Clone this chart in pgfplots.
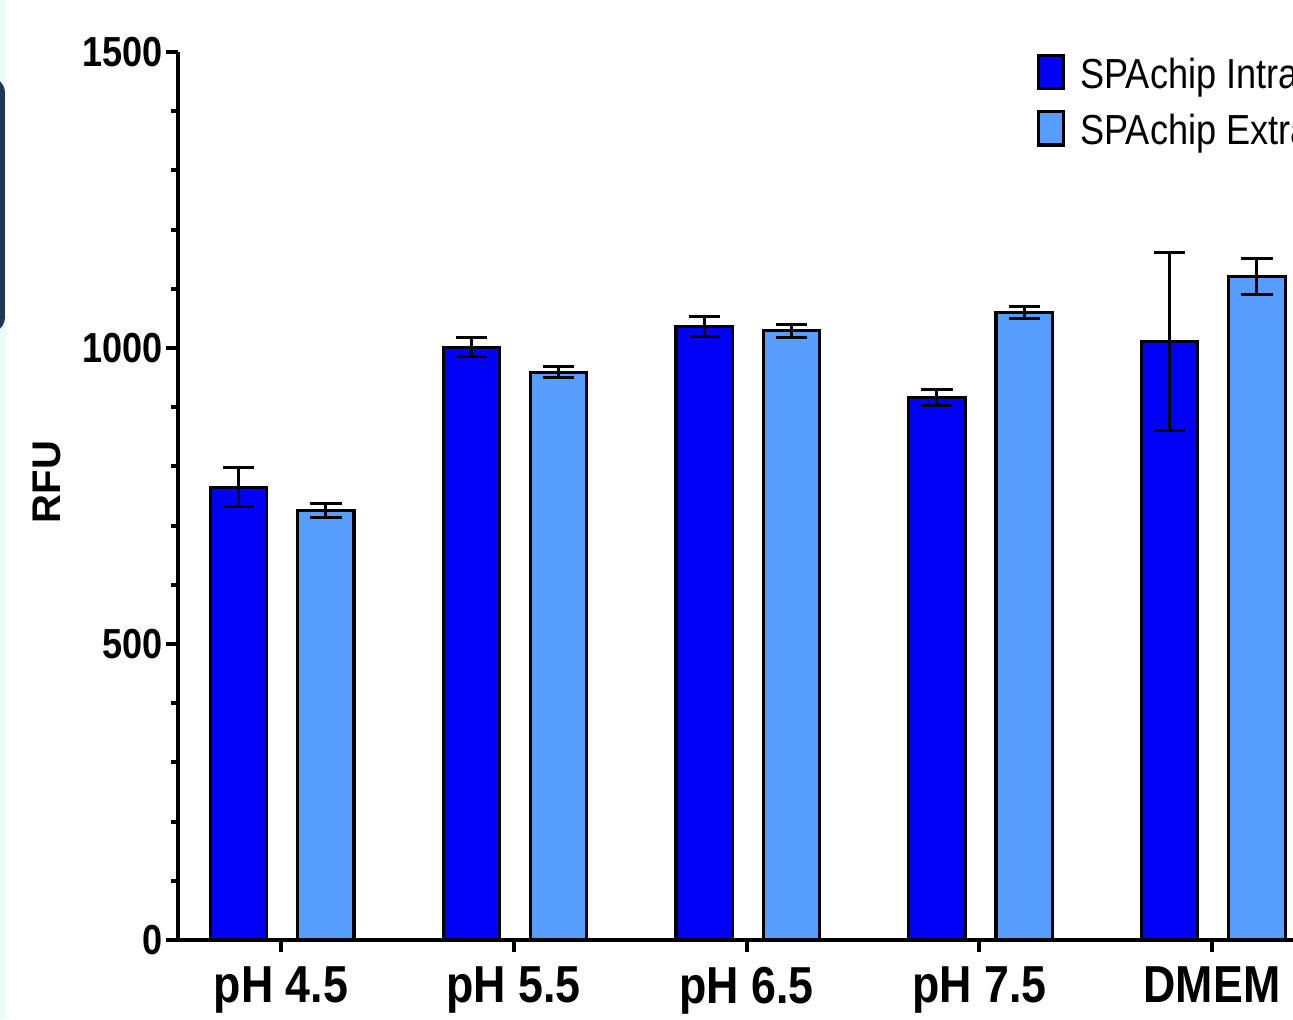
\documentclass[border=0pt]{standalone}
\usepackage{pgfplots}
\pgfplotsset{compat=1.18}
\usepackage{fontspec}
\setmainfont{Liberation Sans}[FakeStretch=0.86]
\newfontfamily\widefont{Liberation Sans}
\definecolor{dblue}{RGB}{0,0,250}
\definecolor{lblue}{RGB}{86,157,253}
\definecolor{navy}{RGB}{32,56,88}
\definecolor{edge}{RGB}{236,250,250}
\pgfplotsset{/pgfplots/ybar legend/.style={/pgfplots/legend image code/.code={\draw[##1,line width=0.8pt] (0pt,-3.1pt) rectangle (6.25pt,5.2pt);}}}
\begin{document}
\begin{tikzpicture}
\fill[edge] (-44.5pt,-19.75pt) rectangle (-43pt,235pt);
\fill[navy, rounded corners=4pt] (-52pt,151.75pt) rectangle (-43.25pt,215.75pt);
\begin{axis}[
  scale only axis, width=284.25pt, height=222pt,
  xmin=-0.4425, xmax=4.4425, ymin=0, ymax=1500,
  axis x line=bottom, axis y line=left,
  axis line style={line width=1pt, -},
  ybar, bar width=0.242,
  xtick={0,1,2,3,4}, xticklabels={pH 4.5,pH 5.5,pH 6.5,pH 7.5,DMEM},
  ytick={0,500,1000,1500}, yticklabels={0,500,1000,1500},
  minor ytick={100,200,300,400,600,700,800,900,1100,1200,1300,1400},
  tick align=outside, major tick length=3pt, minor tick length=1.8pt,
  tick style={line width=1pt, black},
  xticklabel style={font=\fontsize{13}{15}\selectfont\bfseries, inner sep=3.5pt},
  yticklabel style={font=\fontsize{10.5}{12}\selectfont\bfseries, inner sep=0.6pt},
  ylabel={RFU},
  ylabel style={font=\widefont\fontsize{10}{12}\selectfont\bfseries, at={(axis description cs:-0.1153,0.5158)}, anchor=center},
  legend style={at={(rel axis cs:0.755,0.999)}, anchor=north west, draw=none, fill=none,
    inner sep=0pt, row sep=3.95pt, column sep=3.75pt,
    font=\fontsize{10.5}{12.6}\selectfont, nodes={inner sep=0pt}},
  legend cell align=left,
  clip=false,
]
\addplot+[bar shift=-0.182, fill=dblue, draw=black, line width=0.8pt,
  error bars/.cd, y dir=both, y explicit,
  error bar style={line width=0.75pt, black},
  error mark options={rotate=90, line width=0.75pt, black, mark size=3.9pt}]
  coordinates {(0,765) +- (0,33) (1,1001) +- (0,16) (2,1036) +- (0,17) (3,917) +- (0,13.5) (4,1011) +- (0,150)};
\addlegendentry{SPAchip Intra}
\addplot+[bar shift=0.193, fill=lblue, draw=black, line width=0.8pt,
  error bars/.cd, y dir=both, y explicit,
  error bar style={line width=0.75pt, black},
  error mark options={rotate=90, line width=0.75pt, black, mark size=3.9pt}]
  coordinates {(0,725) +- (0,12) (1,959) +- (0,9) (2,1029) +- (0,11) (3,1060) +- (0,10) (4,1121) +- (0,30)};
\addlegendentry{SPAchip Extra}
\end{axis}
\pgfresetboundingbox
\useasboundingbox (-44.5pt,-19.75pt) rectangle (278.75pt,235pt);
\end{tikzpicture}
\end{document}
